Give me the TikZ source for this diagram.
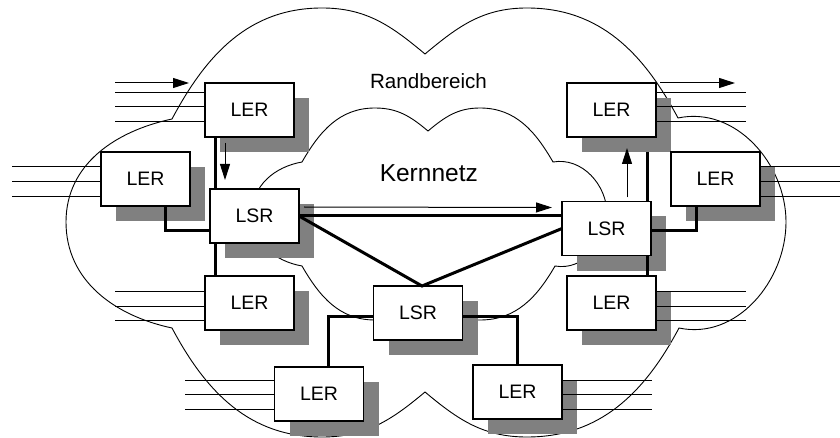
\documentclass[tikz,border=0pt]{standalone}
\usepackage{fontspec}
\setmainfont{Liberation Sans}
\usetikzlibrary{arrows.meta}
\begin{document}
\begin{tikzpicture}[x=1pt,y=-1pt,
  boxnode/.style={draw=black, line width=1.5pt, fill=white, minimum width=89pt, minimum height=54pt, inner sep=0pt, outer sep=0pt, font=\fontsize{19.5}{20}\selectfont},
  shadownode/.style={fill=black!50, minimum width=89pt, minimum height=54pt, inner sep=0pt, outer sep=0pt},
  cloudline/.style={line width=0.9pt},
  wire/.style={line width=1pt},
  link/.style={line width=3pt},
  flow/.style={line width=1pt, -{Triangle[length=16pt,width=10pt]}},
]
\useasboundingbox (0,0) rectangle (840,438);

% outer cloud (Randbereich)
\draw[cloudline] (172,119) to[out=62,in=180] (322,8) to[out=0,in=140] (425,54)
  to[out=40,in=180] (527,8) to[out=0,in=118] (678,118)
  to[out=12,in=90] (786,222) to[out=-90,in=-12] (679,328)
  to[out=-118,in=0] (527,437) to[out=180,in=-40] (425,392)
  to[out=-140,in=0] (322,437) to[out=180,in=-62] (172,328)
  to[out=168,in=-90] (66,222) to[out=90,in=-168] (172,119) -- cycle;

% inner cloud (Kernnetz)
\draw[cloudline] (302,162) to[out=60,in=180] (375,108) to[out=0,in=140] (428,131)
  to[out=40,in=180] (480,108) to[out=0,in=120] (553,162)
  to[out=10,in=90] (607,214) to[out=-90,in=-10] (555,266)
  to[out=-120,in=0] (480,320) to[out=180,in=-40] (428,297)
  to[out=-140,in=0] (375,320) to[out=180,in=-60] (302,266)
  to[out=170,in=-90] (252,214) to[out=90,in=-170] (302,162) -- cycle;

\node[font=\fontsize{20.6}{22}\selectfont, anchor=base, inner sep=0pt] (rand) at (428.5,89) {Randbereich};
\node[font=\fontsize{24.5}{26}\selectfont, anchor=base, inner sep=0pt] (kern) at (428.8,182) {Kernnetz};

% shadows
\node[shadownode] (tls) at (264.5,125) {};
\node[shadownode] (ls) at (160.5,194) {};
\node[shadownode] (lsrls) at (269.5,231) {};
\node[shadownode] (bls) at (264.5,318) {};
\node[shadownode] (bs) at (334,409) {};
\node[shadownode] (lsrms) at (433,328) {};
\node[shadownode] (lsrrs) at (621.5,243.5) {};
\node[shadownode] (rts) at (626.5,125) {};
\node[shadownode] (rs) at (730.5,194) {};
\node[shadownode] (rbs) at (626.5,318) {};
\node[shadownode] (brs) at (532.5,407) {};

% boxes
\node[boxnode] (tl) at (249.5,110) {LER};
\node[boxnode] (l) at (145.5,179) {LER};
\node[boxnode] (lsrl) at (254.5,216) {LSR};
\node[boxnode] (bl) at (249.5,303) {LER};
\node[boxnode] (b) at (319,394) {LER};
\node[boxnode] (lsrm) at (418,313) {LSR};
\node[boxnode] (lsrr) at (606.5,228.5) {LSR};
\node[boxnode] (rt) at (611.5,110) {LER};
\node[boxnode] (r) at (715.5,179) {LER};
\node[boxnode] (rb) at (611.5,303) {LER};
\node[boxnode] (br) at (517.5,392) {LER};

% access wires
\foreach \yy in {93,107,122} {
  \draw[wire] (115,\yy) -- (tl.west |- 0,\yy);
  \draw[wire] (rt.east |- 0,\yy) -- (746,\yy);
}
\foreach \yy in {167,182,197} {
  \draw[wire] (12,\yy) -- (l.west |- 0,\yy);
  \draw[wire] (r.east |- 0,\yy) -- (840,\yy);
}
\foreach \yy in {291,306,320} {
  \draw[wire] (115,\yy) -- (bl.west |- 0,\yy);
  \draw[wire] (rb.east |- 0,\yy) -- (746,\yy);
}
\foreach \yy in {380,394,409} {
  \draw[wire] (185,\yy) -- (b.west |- 0,\yy);
  \draw[wire] (br.east |- 0,\yy) -- (652,\yy);
}
\coordinate (inA) at (115,83);
\coordinate (outB) at (735,83);
\draw[flow] (inA) -- ([xshift=-16pt]tl.north west);
\draw[flow] ([xshift=4pt]rt.north east) -- (outB);

% thick links
\draw[link] ([xshift=10pt]tl.south west) -- ([xshift=5pt]lsrl.north west);
\draw[link] ([xshift=5pt]lsrl.south west) -- ([xshift=10pt]bl.north west);
\draw[link] ([xshift=19.5pt]l.south) |- ([yshift=12pt]lsrl.south west);
\draw[link] (lsrl.east) -- (lsrl.east -| lsrr.west);
\draw[link] (lsrl.east) -- ([xshift=4pt]lsrm.north) -- (lsrr.west);
\draw[link] ([yshift=-3pt]lsrm.west) -| ([xshift=9pt]b.north);
\draw[link] ([yshift=-3pt]lsrm.east) -| (br.north);
\draw[link] ([xshift=-24pt]rts.south east) -- ([xshift=-4pt]lsrr.north east);
\draw[link] ([xshift=-4pt]lsrr.south east) -- ([xshift=-9pt]rb.north east);
\draw[link] ([yshift=-2.5pt]lsrr.east) -| ([xshift=-19.5pt]r.south);

% flow arrows
\draw[flow] ([shift={(20,6)}]tl.south west) -- ([shift={(15,-9)}]lsrl.north west);
\draw[flow] ([shift={(5,18)}]lsrl.north east) -- ([shift={(-10,6)}]lsrr.north west);
\draw[flow] ([shift={(65,-4)}]lsrr.north west) -- ([shift={(60,11)}]rt.south west);
\end{tikzpicture}
\end{document}
